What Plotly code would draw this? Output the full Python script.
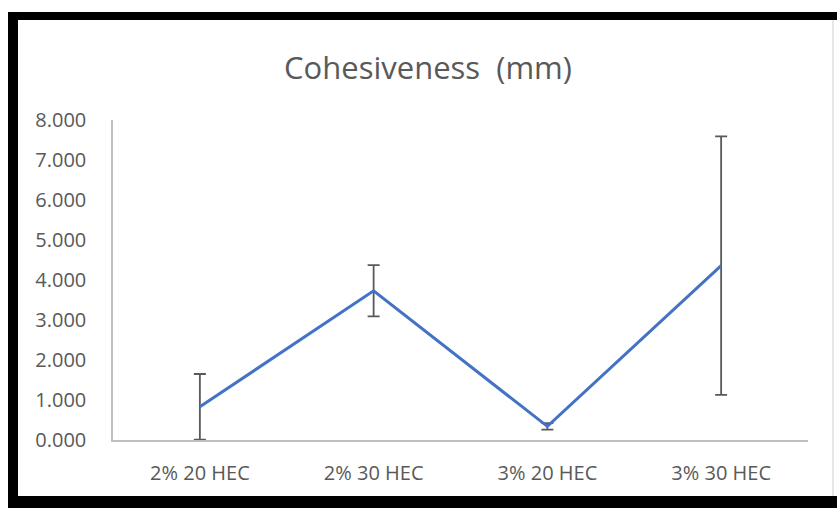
import plotly.graph_objects as go

categories = ["2% 20 HEC", "2% 30 HEC", "3% 20 HEC", "3% 30 HEC"]
values = [0.83, 3.73, 0.34, 4.36]
errors = [0.82, 0.64, 0.08, 3.23]
y_ticks = [0, 1, 2, 3, 4, 5, 6, 7, 8]

fig = go.Figure()
fig.add_trace(go.Scatter(
    x=categories, y=values, mode="lines",
    line=dict(color="#4472C4", width=3),
    error_y=dict(type="data", array=errors, visible=True,
                 color="#595959", thickness=1.8, width=6),
    cliponaxis=False,
    showlegend=False,
))

W, H = 837, 508
L, R, T, B = 113, 29, 120, 68
pw, ph = W - L - R, H - T - B

def px(x):
    return (x - L) / pw

def py(y):
    return (H - B - y) / ph

shapes = [
    dict(type="rect", xref="paper", yref="paper", x0=px(8), x1=px(837), y0=py(20), y1=py(12),
         fillcolor="black", line=dict(width=0), layer="above"),
    dict(type="rect", xref="paper", yref="paper", x0=px(8), x1=px(18), y0=py(508), y1=py(12),
         fillcolor="black", line=dict(width=0), layer="above"),
    dict(type="rect", xref="paper", yref="paper", x0=px(8), x1=px(837), y0=py(508), y1=py(496),
         fillcolor="black", line=dict(width=0), layer="above"),
    dict(type="line", xref="paper", yref="paper", x0=px(833), x1=px(833), y0=py(496), y1=py(20),
         line=dict(color="#D0D0D0", width=1), layer="above"),
]

fig.update_layout(
    width=W, height=H,
    margin=dict(l=L, r=R, t=T, b=B, pad=0),
    paper_bgcolor="white", plot_bgcolor="white",
    title=dict(text="Cohesiveness  (mm)", x=428 / W, xref="container", xanchor="center",
               y=1 - 68 / H, yanchor="middle",
               font=dict(family="Open Sans", size=31, color="#595959")),
    font=dict(family="Open Sans", size=20, color="#595959"),
    xaxis=dict(type="category", range=[-0.5, 3.5], showgrid=False, showline=True,
               linecolor="#BFBFBF", linewidth=1.5, ticks="", ticklabelstandoff=14,
               tickfont=dict(size=20, color="#595959"), zeroline=False),
    yaxis=dict(range=[0, 8], tickvals=y_ticks, tickformat=".3f", showgrid=False,
               showline=True, linecolor="#BFBFBF", linewidth=1.5, ticks="",
               ticklabelstandoff=21, zeroline=False,
               tickfont=dict(size=20, color="#595959")),
    shapes=shapes,
)

fig.write_html("out.html", config={"displayModeBar": False},
               post_script="document.body.style.margin='0';document.body.style.overflow='hidden';")
